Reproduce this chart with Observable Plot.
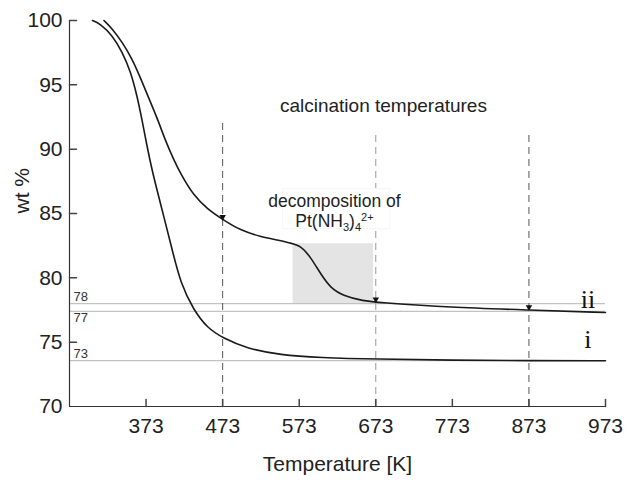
<!DOCTYPE html>
<html><head><meta charset="utf-8">
<script src="https://cdn.jsdelivr.net/npm/d3@7"></script>
<script src="https://cdn.jsdelivr.net/npm/@observablehq/plot@0.6"></script>
<style>body{margin:0;background:#fff} #chart{width:629px;height:484px}</style>
</head><body><div id="chart"></div>
<script>
// ---- data ----
const xTicks = [373, 473, 573, 673, 773, 873, 973];
const yTicks = [70, 75, 80, 85, 90, 95, 100];

// curve i (lower)
const curveI_T = [303, 313, 329, 342, 353, 361, 368, 374, 381, 390, 396, 407, 418, 435, 453, 474, 505, 548, 600, 673, 773, 873, 973];
const curveI_W = [100, 99.75, 98.85, 97.55, 96.0, 94.2, 92.2, 90.3, 88.3, 86.2, 84.8, 82.2, 79.6, 77.5, 76.1, 75.3, 74.5, 74.0, 73.8, 73.68, 73.6, 73.56, 73.55];

// curve ii (upper)
const curveII_T = [318, 329, 342, 355, 366, 377, 388, 398, 409, 418, 435, 453, 474, 496, 522, 548, 561, 575, 588, 601, 614, 631, 657, 675, 770, 873, 973];
const curveII_W = [100, 99.35, 98.3, 97.0, 95.5, 93.9, 92.35, 90.7, 89.2, 88.1, 86.4, 85.35, 84.5, 83.7, 83.2, 82.9, 82.7, 82.5, 81.6, 80.3, 79.2, 78.6, 78.2, 78.1, 77.7, 77.5, 77.3];

// reference levels
const refLevels = [78, 77.4, 73.56];
const refLabels = ["78", "77", "73"];
const refSide = ["above", "below", "above"];

// calcination temperatures (dashed lines) and arrow marks on curve ii
const calcT = [473, 673, 873];
const calcTop = [92.0, 91.2, 91.4];
const calcColor = ["#555", "#9a9a9a", "#555"];
const arrowW = [84.5, 78.1, 77.5];

// decomposition region
const decompBox = [{x1: 565, x2: 670, y1: 78.0, y2: 82.65}];

const seriesI = curveI_T.map((t, i) => ({T: t, W: curveI_W[i]}));
const seriesII = curveII_T.map((t, i) => ({T: t, W: curveII_W[i]}));
const refData = refLevels.map((v, i) => ({v, label: refLabels[i], side: refSide[i]}));
const calcData = calcT.map((t, i) => ({T: t, top: calcTop[i], color: calcColor[i], w: arrowW[i]}));

const tickShape = {draw(ctx, l) { ctx.moveTo(0, 0); ctx.lineTo(0, -l); }};
const sans = "'Liberation Sans', Arial, Helvetica, sans-serif";

const chart = Plot.plot({
  width: 629, height: 484,
  marginLeft: 69, marginRight: 24, marginTop: 20, marginBottom: 78,
  x: {domain: [273, 973]},
  y: {domain: [70, 100]},
  style: {fontFamily: sans, background: "#fff", color: "#222"},
  marks: [
    Plot.rect(decompBox, {x1: "x1", x2: "x2", y1: "y1", y2: "y2", fill: "#e4e4e4"}),
    Plot.ruleY(refData, {y: "v", stroke: "#c2c2c2", strokeWidth: 1.3}),
    Plot.text(refData.filter(d => d.side === "above"), {y: "v", text: "label", frameAnchor: "left", textAnchor: "start", dx: 4, dy: -7, fontSize: 13, fill: "#333"}),
    Plot.text(refData.filter(d => d.side === "below"), {y: "v", text: "label", frameAnchor: "left", textAnchor: "start", dx: 4, dy: 7, fontSize: 13, fill: "#333"}),
    Plot.ruleX(calcData, {x: "T", y1: 70, y2: "top", stroke: "color", strokeWidth: 1, strokeDasharray: "7,5"}),
    Plot.rect([{x1: 552, x2: 692, y1: 83.8, y2: 86.9}], {x1: "x1", x2: "x2", y1: "y1", y2: "y2", fill: "#fff", stroke: "#f6f6f6"}),
    Plot.line(seriesI, {x: "T", y: "W", curve: "basis", stroke: "#1a1a1a", strokeWidth: 1.6}),
    Plot.line(seriesII, {x: "T", y: "W", curve: "basis", stroke: "#1a1a1a", strokeWidth: 1.6}),
    Plot.dot(calcData, {x: "T", y: "w", symbol: "triangle", rotate: 180, r: 2.4, fill: "#111", stroke: null, dy: -3}),
    // axes
    Plot.ruleX([273], {stroke: "#333", strokeWidth: 1.2}),
    Plot.ruleY([70], {stroke: "#333", strokeWidth: 1.2}),
    Plot.vector(xTicks, {x: d => d, frameAnchor: "bottom", length: 7, anchor: "start", shape: tickShape, stroke: "#444"}),
    Plot.vector(yTicks.filter(v => v > 70), {y: d => d, frameAnchor: "left", rotate: 90, length: 7, anchor: "start", shape: tickShape, stroke: "#444"}),
    Plot.axisX(xTicks, {tickSize: 0, tickPadding: 12, fontSize: 21, label: null, fill: "#222"}),
    Plot.axisY(yTicks, {tickSize: 0, tickPadding: 7, fontSize: 21, label: null, fill: "#222"}),
    Plot.text(["Temperature [K]"], {frameAnchor: "bottom", dy: 64, fontSize: 21, fill: "#222"}),
    Plot.text(["wt %"], {frameAnchor: "left", rotate: -90, dx: -47, fontSize: 21, fill: "#222"}),
    // annotations
    Plot.text(["calcination temperatures"], {x: 683, y: 93.4, fontSize: 19, fill: "#222"}),
    Plot.text(["decomposition of"], {x: 619, y: 85.95, fontSize: 17.5, fill: "#222"}),
    Plot.text(["Pt(NH3)42+"], {x: 619, y: 84.35, fontSize: 17.5, fill: "#222"}),
    Plot.text(["ii"], {x: 950, y: 78.3, fontSize: 26, fontFamily: "'Liberation Serif', 'Times New Roman', serif", fill: "#111"}),
    Plot.text(["i"], {x: 950, y: 75.2, fontSize: 26, fontFamily: "'Liberation Serif', 'Times New Roman', serif", fill: "#111"})
  ]
});

document.getElementById("chart").appendChild(chart);

// sub/superscripts for the formula
d3.select(chart).selectAll("text").filter(function() { return this.textContent === "Pt(NH3)42+"; }).each(function() {
  const t = d3.select(this);
  t.text(null);
  t.append("tspan").text("Pt(NH");
  t.append("tspan").attr("dy", 4).attr("font-size", 11).text("3");
  t.append("tspan").attr("dy", -4).text(")");
  t.append("tspan").attr("dy", 4).attr("font-size", 11).text("4");
  t.append("tspan").attr("dy", -10).attr("font-size", 11).text("2+");
});
</script></body></html>
